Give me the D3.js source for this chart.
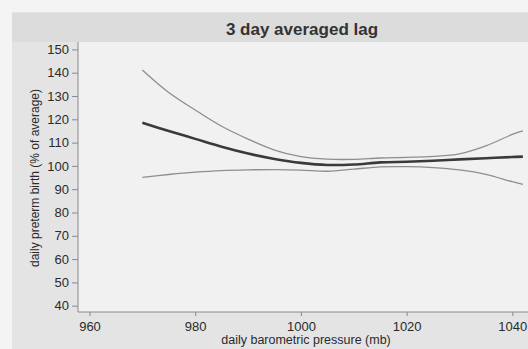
<!DOCTYPE html>
<html>
<head>
<meta charset="utf-8">
<script src="https://cdn.jsdelivr.net/npm/d3@7"></script>
<style>
  body { margin: 0; background: #f4f4f4; }
  svg { display: block; font-family: "Liberation Sans", Arial, sans-serif; }
</style>
</head>
<body>
<div id="chart"></div>
<script>
// barometric pressure (mb) at which the smooth was read
let pressure = [970, 975, 980, 985, 990, 995, 1000, 1005, 1010, 1015, 1020, 1025, 1030, 1035, 1040, 1042];
// estimate and 95% bounds (% of average)
let estimate = [118.5, 115.0, 111.6, 108.2, 105.3, 103.0, 101.3, 100.4, 100.6, 101.5, 101.8, 102.2, 102.8, 103.3, 103.8, 104.0];
let upper    = [141.2, 131.5, 124.0, 117.0, 111.5, 106.8, 104.0, 102.9, 102.8, 103.4, 103.7, 104.1, 105.2, 108.6, 113.5, 115.0];
let lower    = [95.1, 96.3, 97.3, 98.0, 98.3, 98.4, 98.2, 97.7, 98.6, 99.6, 99.7, 99.3, 98.3, 96.4, 93.2, 92.1];

let xTicks = [960, 980, 1000, 1020, 1040];
let yTicks = [40, 50, 60, 70, 80, 90, 100, 110, 120, 130, 140, 150];

let width = 528, height = 349;

let svg = d3.select("#chart")
    .append("svg")
    .attr("width", width)
    .attr("height", height);

// panel, title band and plot region
svg.append("rect").attr("x", 12).attr("y", 12).attr("width", width - 12).attr("height", height - 12).attr("fill", "#e4e4e4");
svg.append("rect").attr("x", 12).attr("y", 13).attr("width", width - 12).attr("height", 29).attr("fill", "#dcdcdc");
svg.append("rect").attr("x", 78).attr("y", 42).attr("width", width - 78).attr("height", 270).attr("fill", "#f1f1f1");

let x = d3.scaleLinear()
    .domain([960, 1040])
    .range([89.5, 512.3]);

let y = d3.scaleLinear()
    .domain([40, 150])
    .range([305.7, 49.4]);

// axes
let xAxis = svg.append("g")
    .attr("transform", "translate(0,312)")
    .call(d3.axisBottom(x).tickValues(xTicks).tickFormat(d3.format("d"))
        .tickSize(4).tickPadding(6).tickSizeOuter(0));
let yAxis = svg.append("g")
    .attr("transform", "translate(78,0)")
    .call(d3.axisLeft(y).tickValues(yTicks).tickFormat(d3.format("d"))
        .tickSize(6).tickPadding(3).tickSizeOuter(0));

[xAxis, yAxis].forEach(function(a) {
    a.select(".domain").remove();
    a.selectAll("line").attr("stroke", "#8a8a8a");
    a.selectAll("text").attr("fill", "#2a2a2a").style("font-size", "13px");
});

svg.append("line").attr("x1", 78).attr("x2", width).attr("y1", 312).attr("y2", 312).attr("stroke", "#8a8a8a");
svg.append("line").attr("x1", 78).attr("x2", 78).attr("y1", 42).attr("y2", 312).attr("stroke", "#8a8a8a");

// curves
let line = function(vals) {
    return d3.line()
        .x(function(d, i) { return x(pressure[i]); })
        .y(function(d) { return y(d); })
        .curve(d3.curveCatmullRom.alpha(0.5))(vals);
};

[upper, lower].forEach(function(s) {
    svg.append("path")
        .attr("d", line(s))
        .attr("fill", "none")
        .attr("stroke", "#8e8e8e")
        .attr("stroke-width", 1.3);
});

svg.append("path")
    .attr("d", line(estimate))
    .attr("fill", "none")
    .attr("stroke", "#3a3a3a")
    .attr("stroke-width", 2.6);

// titles
svg.append("text")
    .attr("x", 302)
    .attr("y", 35)
    .attr("text-anchor", "middle")
    .attr("fill", "#333")
    .style("font-size", "17px")
    .style("font-weight", "bold")
    .text("3 day averaged lag");

svg.append("text")
    .attr("x", 306)
    .attr("y", 344)
    .attr("text-anchor", "middle")
    .attr("fill", "#2a2a2a")
    .style("font-size", "12.5px")
    .text("daily barometric pressure (mb)");

svg.append("text")
    .attr("transform", "translate(39,178) rotate(-90)")
    .attr("text-anchor", "middle")
    .attr("fill", "#2a2a2a")
    .style("font-size", "12px")
    .text("daily preterm birth (% of average)");
</script>
</body>
</html>
